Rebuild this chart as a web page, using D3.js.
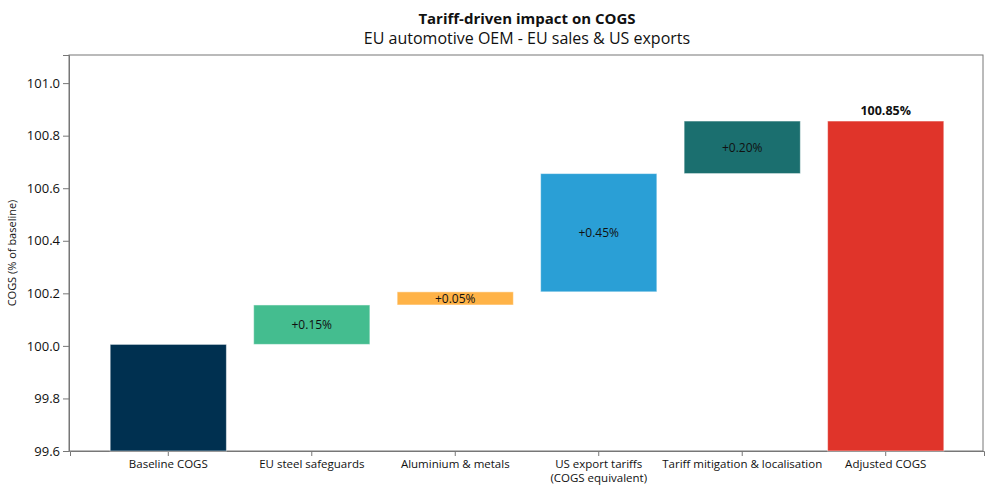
<!DOCTYPE html>
<html>
<head>
<meta charset="utf-8">
<script src="https://cdn.jsdelivr.net/npm/d3@7"></script>
<style>
  body { margin: 0; background: #fff; }
  svg text { font-family: "Open Sans", sans-serif; fill: #111; }
</style>
</head>
<body>
<svg width="993" height="496"></svg>
<script>
// data
var categories = ["Baseline COGS", "EU steel safeguards", "Aluminium & metals",
  "US export tariffs\n(COGS equivalent)", "Tariff mitigation & localisation", "Adjusted COGS"];
var kinds = ["total", "delta", "delta", "delta", "delta", "total"];
var deltas = [100.0, 0.15, 0.05, 0.45, 0.20, 100.85];
var labels = ["", "+0.15%", "+0.05%", "+0.45%", "+0.20%", "100.85%"];
var colors = ["#003050", "#44bd8f", "#ffb347", "#2a9fd6", "#1b6f6f", "#e0342a"];
var yTicks = [99.6, 99.8, 100.0, 100.2, 100.4, 100.6, 100.8, 101.0];

var svg = d3.select("svg"),
  width = +svg.attr("width"),
  height = +svg.attr("height");

var margin = {top: 55, right: 10, bottom: 45, left: 69};
var w = width - margin.left - margin.right,
  h = height - margin.top - margin.bottom;

// build waterfall steps
var run = 0;
var steps = categories.map(function(c, i) {
  var s;
  if (kinds[i] == "total") { s = {lo: 99.6, hi: deltas[i]}; run = deltas[i]; }
  else { s = {lo: run, hi: run + deltas[i]}; run += deltas[i]; }
  s.name = c; s.i = i;
  return s;
});

var x = d3.scaleBand()
  .domain(categories)
  .range([1, w + 1])
  .paddingInner(0.19)
  .paddingOuter(0.28);

var y = d3.scaleLinear()
  .domain([99.6, 101.107])
  .range([h, 0]);

var g = svg.append("g").attr("transform", "translate(" + margin.left + "," + margin.top + ")");

// frame
g.append("rect")
  .attr("x", 0).attr("y", 0).attr("width", w).attr("height", h)
  .attr("fill", "none").attr("stroke", "#777").attr("stroke-width", 1);

// axes
var yAxis = g.append("g")
  .call(d3.axisLeft(y).tickValues(yTicks).tickFormat(d3.format(".1f")).tickSizeOuter(0).tickSize(6));
yAxis.select(".domain").attr("stroke", "#777");
yAxis.selectAll(".tick line").attr("stroke", "#777");
yAxis.selectAll(".tick text").attr("font-size", 13).attr("x", -9);

var xAxis = g.append("g")
  .attr("transform", "translate(0," + h + ")")
  .call(d3.axisBottom(x).tickSizeOuter(0).tickSize(5).tickFormat(""));
xAxis.select(".domain").attr("stroke", "#777");
xAxis.selectAll(".tick line").attr("stroke", "#777");
xAxis.selectAll(".tick").each(function(d) {
  var lines = d.split("\n");
  var t = d3.select(this).append("text")
    .attr("y", 17).attr("text-anchor", "middle").attr("font-size", 11.5);
  lines.forEach(function(l, k) {
    t.append("tspan").attr("x", 0).attr("dy", k == 0 ? 0 : 13.5).text(l);
  });
});

// bars (top edge nudged up a touch like the reference)
g.selectAll(".bar")
  .data(steps)
  .enter()
  .append("rect")
    .attr("x", function(d) { return x(d.name); })
    .attr("width", x.bandwidth())
    .attr("y", function(d) { return y(d.hi) - 1.5; })
    .attr("height", function(d) { return y(d.lo) - y(d.hi) + (kinds[d.i] == "total" ? 1.5 : 0); })
    .attr("fill", function(d) { return colors[d.i]; })
    .attr("stroke", "rgba(255,255,255,0.5)")
    .attr("stroke-width", 1);

// labels in bars
g.selectAll(".lbl")
  .data(steps.filter(function(d) { return kinds[d.i] == "delta"; }))
  .enter()
  .append("text")
    .attr("x", function(d) { return x(d.name) + x.bandwidth() / 2; })
    .attr("y", function(d) { return (y(d.lo) + y(d.hi)) / 2 - 1.5; })
    .attr("dy", "0.35em")
    .attr("text-anchor", "middle")
    .attr("font-size", 12)
    .text(function(d) { return labels[d.i]; });

// total label
var last = steps[5];
g.append("text")
  .attr("x", x(last.name) + x.bandwidth() / 2)
  .attr("y", y(last.hi) - 8)
  .attr("text-anchor", "middle")
  .attr("font-size", 12.5)
  .attr("font-weight", "bold")
  .text(labels[5]);

// y title
svg.append("text")
  .attr("transform", "translate(16," + (margin.top + h / 2) + ") rotate(-90)")
  .attr("text-anchor", "middle")
  .attr("font-size", 11)
  .text("COGS (% of baseline)");

// titles
svg.append("text")
  .attr("x", 527).attr("y", 24)
  .attr("text-anchor", "middle")
  .attr("font-size", 15)
  .attr("font-weight", "bold")
  .text("Tariff-driven impact on COGS");
svg.append("text")
  .attr("x", 527).attr("y", 44)
  .attr("text-anchor", "middle")
  .attr("font-size", 16)
  .text("EU automotive OEM - EU sales & US exports");
</script>
</body>
</html>
